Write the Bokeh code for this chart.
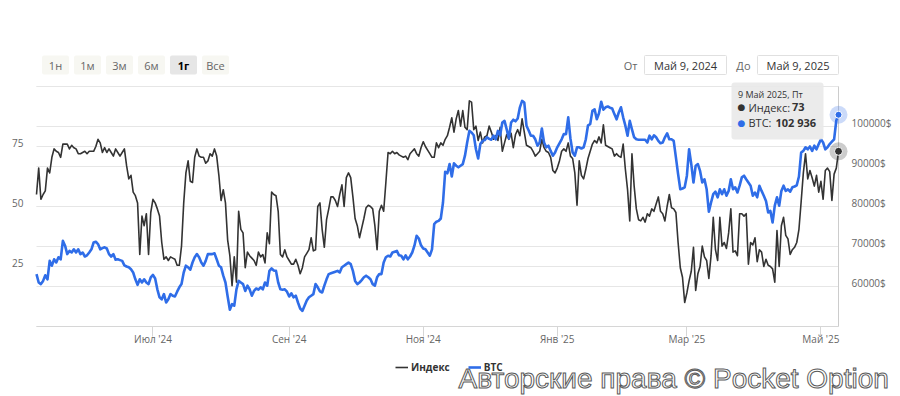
import numpy as np
import pandas as pd
from bokeh.plotting import figure
from bokeh.models import (Range1d, LinearAxis, FixedTicker, PrintfTickFormatter,
                          Label, BoxAnnotation, Legend, LegendItem, ColumnDataSource)
from bokeh.embed import file_html
from bokeh.resources import INLINE

# ---------------- data ----------------
start_date = "2024-05-09"
end_date = "2025-05-09"
series_names = ["Индекс", "BTC"]

# daily values, 2024-05-09 .. 2025-05-09
index_vals = [
    55, 66, 53, 55, 56.5, 66, 64, 70.5, 74, 73, 72.5, 70.5, 76, 76, 76, 74, 75.5, 74.5, 74, 72,
    72, 72.5, 73, 72, 73, 73, 73, 75, 78, 76.5, 72.5, 74.5, 72.5, 74, 72.5, 71, 74, 72.5, 71, 72.5,
    74, 67, 61.5, 63, 56, 54.5, 51.5, 30, 46, 42, 47, 30, 47.5, 53, 51.5, 49, 46, 35, 28, 29,
    27.5, 29, 28.5, 28, 25.5, 25.5, 33.5, 51.5, 64, 69, 60.5, 60, 70.5, 74, 71, 70.5, 70.5, 68, 69, 72,
    71, 74, 71, 63, 52.5, 57, 51.5, 36, 29.5, 17, 29, 18.5, 48, 40.5, 39, 24.5, 31, 29.5, 28.5, 27.5,
    25.5, 31, 29, 30, 26.5, 39, 34.5, 56, 55, 54.5, 48, 30, 29, 32, 29, 27.5, 26, 26, 28, 25.5,
    22, 24.5, 29, 30.5, 32, 37, 31.5, 32, 50, 51.5, 40.5, 33, 44.5, 49, 54, 54, 52.5, 50, 55, 59,
    50, 62, 64, 62, 54, 45, 42, 37, 41, 45, 49.5, 50.5, 50, 49, 42, 32, 48, 50.5, 48, 60,
    72.5, 72, 73, 72, 72.5, 71.5, 71, 70.5, 71, 69.5, 72, 73, 74, 72, 71, 74.5, 77, 75, 73.5, 72,
    70.5, 70.5, 76.5, 74.5, 76.5, 75.5, 78, 79.5, 83, 87, 81, 86.5, 90, 83.5, 90, 83, 82, 94, 93.5, 82,
    83.5, 77.5, 81, 76.5, 79, 79.5, 83.5, 81, 78, 79.5, 77.5, 83, 73, 76.5, 80, 78, 80.5, 74.5, 80, 82,
    79.5, 86.5, 81, 75.5, 75, 74.5, 73, 71, 72, 73, 78, 74.5, 73, 72.5, 70.5, 65, 64, 66, 69, 73,
    74, 73, 76.5, 71, 70, 64, 50.5, 69, 63, 61.5, 65.5, 70, 73, 76, 77.5, 76.5, 79, 76.5, 84, 75.5,
    75, 74.5, 74, 71, 72, 71, 70.5, 76, 65.5, 57, 44, 72, 58.5, 49, 44.5, 44, 45.5, 43.5, 47, 46,
    49, 48, 51, 54, 48, 47, 44, 50, 55, 49.5, 49, 47.5, 35, 24.5, 20.5, 10, 14, 19, 23, 33,
    15, 22, 25, 33.5, 29, 27.5, 20, 29.5, 45.5, 32, 27.5, 45.5, 33.5, 35, 32.5, 39, 49, 31, 31.5, 29.5,
    47, 47, 46, 47, 26, 35, 34, 37, 27, 32, 31, 25, 28, 25.5, 25, 24, 18.5, 40, 25, 42,
    45.5, 38, 36.5, 30, 32, 33, 35, 40.5, 52, 64, 72, 61.5, 65, 62, 58.5, 63, 56, 60.5, 53, 65,
    66, 64.5, 52.5, 63.5, 66, 73,
]

btc_vals = [
    63100, 61000, 60600, 61400, 62800, 61800, 66400, 65200, 66800, 66000, 67300, 66800, 71400, 70200, 68100, 68900, 68500, 69300, 68500, 69300,
    68100, 68500, 67500, 67800, 68500, 69300, 71000, 71200, 70600, 69300, 69600, 69800, 69500, 68100, 67500, 68100, 66700, 66800, 66600, 66400,
    65300, 65000, 64800, 64300, 63500, 61800, 60400, 61800, 61000, 61800, 61000, 60600, 62300, 62900, 62000, 59300, 57300, 56800, 58100, 56000,
    56800, 58100, 57700, 57500, 58700, 59800, 60600, 63500, 65200, 64800, 64200, 66000, 67300, 68100, 67300, 66000, 65200, 66400, 68100, 68100,
    68100, 68300, 66800, 65200, 64800, 62700, 61000, 57500, 54200, 55600, 55200, 59300, 61400, 61000, 60600, 58900, 60200, 59300, 57700, 58900,
    59500, 59200, 59800, 59300, 61000, 60200, 63900, 64500, 64000, 63900, 61000, 59300, 59200, 59300, 58700, 57500, 58300, 57300, 57700, 56000,
    54500, 53900, 55200, 56500, 57300, 57700, 58100, 60600, 59800, 58800, 58500, 60200, 61800, 63100, 63300, 63500, 63700, 63900, 63500, 64800,
    65200, 65600, 66000, 65600, 63900, 61400, 60600, 61000, 61600, 62300, 62700, 62300, 61800, 60600, 60200, 62300, 63100, 63100, 66000, 67300,
    67700, 67500, 68500, 68700, 68900, 67800, 67700, 66800, 67800, 66800, 67500, 68500, 70200, 72700, 72000, 70300, 69500, 69300, 68500, 67700,
    69300, 75600, 76200, 76400, 77000, 81000, 88700, 88300, 90600, 87500, 90800, 90200, 89800, 90200, 90600, 92700, 96000, 98900, 98500, 97800,
    94300, 92000, 95600, 96400, 96600, 97300, 96900, 96700, 97700, 96800, 98900, 97800, 101000, 101400, 99300, 97000, 101000, 101700, 101300, 102000,
    104800, 106400, 106000, 100200, 99000, 97700, 97700, 96800, 95200, 96000, 99500, 96000, 94800, 95200, 93900, 92700, 93500, 94800, 95800, 96800,
    98100, 98100, 102300, 97000, 93500, 92700, 94800, 94800, 94500, 94800, 96800, 100300, 100600, 103900, 104300, 101800, 103300, 106200, 104200, 104800,
    105000, 104700, 104500, 103100, 101800, 103500, 104800, 102300, 100200, 97700, 101400, 99300, 97300, 96800, 96700, 96700, 96700, 96700, 96000, 97700,
    96800, 97800, 97300, 96400, 95800, 96000, 97300, 98300, 96800, 96800, 96400, 92300, 88100, 84300, 84500, 84800, 87700, 94300, 90600, 86000,
    90200, 90600, 88900, 86000, 86800, 84300, 78700, 81000, 83100, 83700, 82300, 84300, 83100, 84300, 82700, 83900, 86800, 84300, 84800, 83500,
    85200, 87300, 87700, 86800, 86000, 85200, 82700, 83500, 82300, 85200, 83900, 82700, 81400, 78500, 78900, 76000, 80200, 82300, 80200, 83900,
    85200, 83900, 84300, 83700, 84800, 85000, 85300, 87500, 93500, 93900, 94800, 94300, 95000, 93900, 95200, 94300, 95600, 96800, 96000, 94300,
    94800, 95600, 96200, 96800, 101500, 102936,
]

tick_dates = ["2024-07-01", "2024-09-01", "2024-11-01", "2025-01-01", "2025-03-01", "2025-05-01"]
tick_labels = ["Июл '24", "Сен '24", "Ноя '24", "Янв '25", "Мар '25", "Май '25"]
left_ticks = [25, 50, 75]
left_grid = [0, 25, 50, 75, 100]
right_ticks = [60000, 70000, 80000, 90000, 100000]
right_grid = [50000, 60000, 70000, 80000, 90000, 100000, 110000]
buttons = ["1н", "1м", "3м", "6м", "1г", "Все"]
selected_button = "1г"
from_label, to_label = "От", "До"
range_from = "Май 9, 2024"
range_to = "Май 9, 2025"
tooltip_date = "9 Май 2025, Пт"
watermark = "Авторские права © Pocket Option"

# ---------------- layout geometry (pixels) ----------------
W, H = 900, 396
PLOT_L, PLOT_R, PLOT_T, PLOT_B = 36, 838, 86, 326      # plotting area inside the canvas
LABEL_SHIFT = 4                                           # axis labels sit a bit above grid lines

BLACK = "#333333"
BLUE = "#2f6de8"
GRID = "#e6e6e6"
LABEL = "#666666"
FONT = "Open Sans"

t0 = pd.Timestamp(start_date)
t1 = pd.Timestamp(end_date)
t0_ms = t0.value / 1e6
t1_ms = t1.value / 1e6
ms_per_px = (t1_ms - t0_ms) / (PLOT_R - PLOT_L)

idx_lo, idx_hi = left_grid[0], left_grid[-1]
btc_lo, btc_hi = right_grid[0], right_grid[-1]
idx_per_px = (idx_hi - idx_lo) / (PLOT_B - PLOT_T)
btc_per_px = (btc_hi - btc_lo) / (PLOT_B - PLOT_T)

def vrange(lo, per_px, shift=0.0):
    return Range1d(lo - (H - PLOT_B) * per_px - shift, lo + PLOT_B * per_px - shift)

dates = t0 + pd.to_timedelta(np.arange(len(index_vals)), unit="D")
src = ColumnDataSource(dict(date=dates, idx=index_vals, btc=btc_vals))

p = figure(width=W, height=H, x_axis_type="datetime", output_backend="svg", toolbar_location=None,
           title=None,
           x_range=Range1d(t0_ms - PLOT_L * ms_per_px, t1_ms + (W - PLOT_R) * ms_per_px),
           y_range=vrange(idx_lo, idx_per_px),
           min_border=0, min_border_left=0, min_border_right=0,
           min_border_top=0, min_border_bottom=0)
p.extra_y_ranges = {
    "btc": vrange(btc_lo, btc_per_px),
    "idx_lbl": vrange(idx_lo, idx_per_px, LABEL_SHIFT * idx_per_px),
    "btc_lbl": vrange(btc_lo, btc_per_px, LABEL_SHIFT * btc_per_px),
}
p.outline_line_color = None
p.background_fill_color = "white"
p.border_fill_color = "white"
p.xgrid.visible = False
p.ygrid.visible = False

# grid lines across the plotting area
p.segment(x0=[t0] * len(left_grid), x1=[t1] * len(left_grid), y0=left_grid, y1=left_grid,
          line_color=GRID, line_width=1)
p.segment(x0=[t0] * len(right_grid), x1=[t1] * len(right_grid), y0=right_grid, y1=right_grid,
          line_color=GRID, line_width=1, y_range_name="btc")

def style_value_axis(ax):
    ax.axis_line_color = None
    ax.major_tick_line_color = None
    ax.minor_tick_line_color = None
    ax.major_tick_out = 0
    ax.major_tick_in = 0
    ax.minor_tick_out = 0
    ax.major_label_text_font = FONT
    ax.major_label_text_font_size = "10px"
    ax.major_label_text_color = LABEL
    ax.major_label_standoff = 13

# left axis (index)
ya = p.yaxis[0]
ya.y_range_name = "idx_lbl"
ya.ticker = FixedTicker(ticks=left_ticks)
ya.fixed_location = t0_ms
style_value_axis(ya)

# right axis (BTC)
ra = LinearAxis(y_range_name="btc_lbl", ticker=FixedTicker(ticks=right_ticks),
                formatter=PrintfTickFormatter(format="%d$"), fixed_location=t1_ms)
style_value_axis(ra)
p.add_layout(ra, "right")

# bottom axis
tick_ms = [int(pd.Timestamp(d).value // 10**6) for d in tick_dates]
xa = p.xaxis[0]
xa.ticker = FixedTicker(ticks=tick_ms)
xa.major_label_overrides = {t: l for t, l in zip(tick_ms, tick_labels)}
xa.fixed_location = idx_lo
xa.bounds = (t0_ms, t1_ms)
xa.axis_line_color = "#d6d6d6"
xa.major_tick_line_color = "#d6d6d6"
xa.major_tick_in = 0
xa.major_tick_out = 10
xa.minor_tick_line_color = None
xa.major_label_text_font = FONT
xa.major_label_text_font_size = "10px"
xa.major_label_text_color = LABEL
xa.major_label_standoff = -5

# crosshair at hovered point
p.segment(x0=[t1], x1=[t1], y0=[idx_lo], y1=[idx_hi], line_color="#cccccc", line_width=1)

# series
r_idx = p.line("date", "idx", source=src, line_color=BLACK, line_width=1.6, line_join="round")
r_btc = p.line("date", "btc", source=src, y_range_name="btc", line_color=BLUE, line_width=2.6,
               line_join="round")

# hover markers at the last point
last = ColumnDataSource(dict(date=[dates[-1]], idx=[index_vals[-1]], btc=[btc_vals[-1]]))
p.scatter("date", "idx", source=last, size=18, fill_color=BLACK, fill_alpha=0.25, line_color=None)
p.scatter("date", "idx", source=last, size=8, fill_color=BLACK, line_color="white", line_width=1)
p.scatter("date", "btc", source=last, y_range_name="btc", size=18, fill_color=BLUE, fill_alpha=0.25,
          line_color=None)
p.scatter("date", "btc", source=last, y_range_name="btc", size=7, fill_color=BLUE,
          line_color="white", line_width=1)

# ---------------- overlays in canvas pixels ----------------
U = "canvas"

def lab(px, py, text, size="11px", color="#333333", align="left", style="normal", font=FONT,
        baseline="middle"):
    l = Label(x=px, y=py, x_units=U, y_units=U, text=text, text_font=font,
              text_font_size=size, text_color=color, text_align=align, text_baseline=baseline,
              text_font_style=style)
    p.add_layout(l)
    return l

def box(x0, x1, y0, y1, fill, line=None, alpha=1.0, radius=2):
    b = BoxAnnotation(left=x0, right=x1, top=y0, bottom=y1,
                      left_units=U, right_units=U, top_units=U, bottom_units=U,
                      fill_color=fill, fill_alpha=alpha,
                      line_color=line if line else None, line_alpha=1.0 if line else 0)
    try:
        b.border_radius = radius
    except Exception:
        pass
    p.add_layout(b)

# range buttons
for i, name in enumerate(buttons):
    c = 55 + 32 * i
    sel = name == selected_button
    box(c - 13.5, c + 13.5, 55, 74, "#e6e6e6" if sel else "#f7f7f2")
    lab(c, 64.5, name, size="11px", color="#000000" if sel else "#666666", align="center",
        style="bold" if sel else "normal")

# date range inputs
lab(637, 64.5, from_label, size="11px", color=LABEL, align="right")
box(644, 726, 55, 74, "white", line="#e0e0e0", radius=1)
lab(685, 64.5, range_from, size="11px", color="#333333", align="center")
lab(750, 64.5, to_label, size="11px", color=LABEL, align="right")
box(757, 838, 55, 74, "white", line="#e0e0e0", radius=1)
lab(797.5, 64.5, range_to, size="11px", color="#333333", align="center")

# tooltip
box(731, 823, 82, 139, "#e9e9e9", alpha=0.92, radius=3)
lab(737.5, 93.5, tooltip_date, size="9px", color="#333333")
lab(741, 106.5, "●", size="9px", color=BLACK, align="center", font="DejaVu Sans")
lab(748, 106.5, series_names[0] + ":", size="11px", color="#333333")
lab(791.5, 106.5, f"{index_vals[-1]:.0f}", size="11px", color="#333333", style="bold")
lab(741, 122, "●", size="9px", color=BLUE, align="center", font="DejaVu Sans")
lab(748, 122, series_names[1] + ":", size="11px", color="#333333")
lab(775, 122, f"{btc_vals[-1]:,}".replace(",", " "), size="11px", color="#333333", style="bold")

# legend (location = left, bottom in pixels from the canvas' bottom-left)
legend = Legend(items=[LegendItem(label=series_names[0], renderers=[r_idx]),
                       LegendItem(label=series_names[1], renderers=[r_btc])],
                orientation="horizontal", location=(395, H - 374))
legend.background_fill_alpha = 0
legend.border_line_alpha = 0
legend.padding = 0
legend.margin = 0
legend.spacing = 18
legend.glyph_width = 13
legend.glyph_height = 12
legend.label_height = 12
legend.label_standoff = 3
legend.label_text_font = FONT
legend.label_text_font_size = "10px"
legend.label_text_font_style = "bold"
legend.label_text_color = "#333333"
p.add_layout(legend)

# watermark (outlined text)
WM_X, WM_Y, WM_SIZE = 458, 378, "28px"
outlined = False
wm = lab(WM_X, WM_Y, watermark, size=WM_SIZE, color="white", font="Liberation Sans")
try:
    wm.text_outline_color = "#5a5a5a"
    outlined = True
except Exception:
    outlined = False
if not outlined:
    for dx, dy in [(-1, 0), (1, 0), (0, -1), (0, 1)]:
        lab(WM_X + dx, WM_Y + dy, watermark, size=WM_SIZE, color="#5a5a5a", font="Liberation Sans")
    lab(WM_X, WM_Y, watermark, size=WM_SIZE, color="white", font="Liberation Sans")

open("out.html", "w").write(file_html(p, INLINE))
